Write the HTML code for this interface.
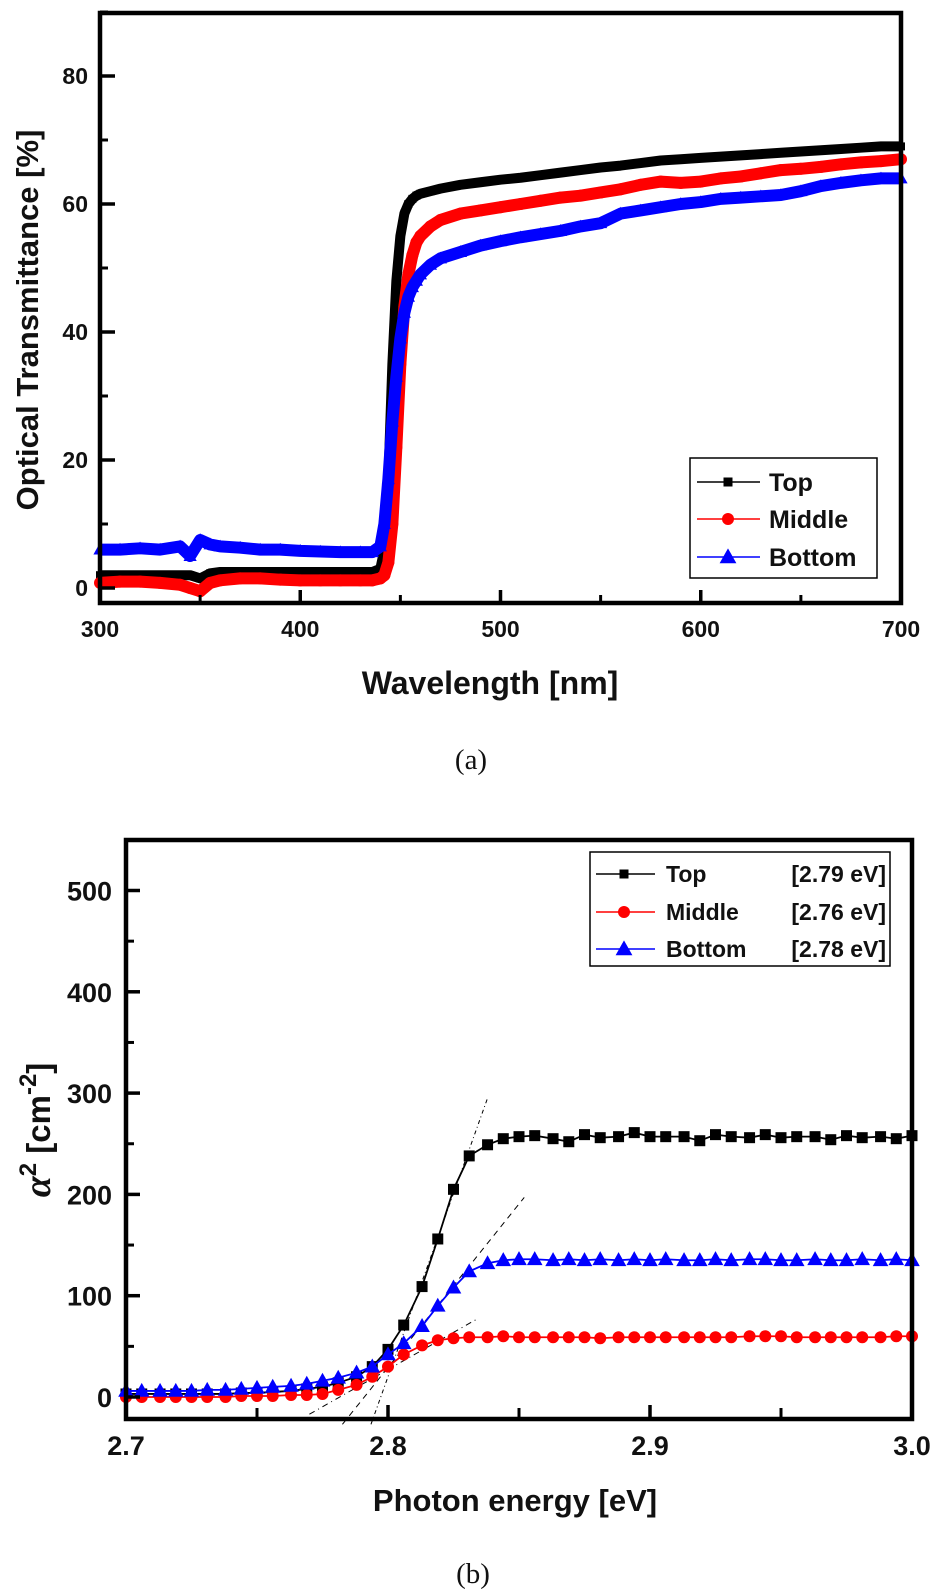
<!DOCTYPE html>
<html><head><meta charset="utf-8"><style>
html,body{margin:0;padding:0;background:#fff;}
svg{display:block;}
text{font-family:"Liberation Sans",sans-serif;}
.nar{font-family:"Liberation Sans Narrow","Liberation Sans",sans-serif;font-stretch:condensed;}
</style></head><body>
<svg id="fig" width="933" height="1589" viewBox="0 0 933 1589" xmlns="http://www.w3.org/2000/svg">
<rect width="933" height="1589" fill="#fff"/>
<g id="ga"></g>
<g id="gb"></g>
<text x="0" y="0" transform="translate(38,320) rotate(-90)" text-anchor="middle" font-size="31" font-weight="bold" fill="#111">Optical Transmittance [%]</text>
<text x="490" y="694" text-anchor="middle" font-size="32" font-weight="bold" fill="#111">Wavelength [nm]</text>
<text x="471" y="769" text-anchor="middle" font-size="29" fill="#111" style="font-family:'Liberation Serif',serif">(a)</text>
<text x="0" y="0" transform="translate(50,1130) rotate(-90)" text-anchor="middle" font-size="33" font-weight="bold" fill="#111"><tspan font-style="italic" style="font-family:'Liberation Serif',serif" font-size="38">α</tspan><tspan dy="-14" font-size="24">2</tspan><tspan dy="14"> [cm</tspan><tspan dy="-14" font-size="24">-2</tspan><tspan dy="14">]</tspan></text>
<text class="nar" x="515" y="1511" text-anchor="middle" font-size="31" font-weight="bold" fill="#111">Photon energy [eV]</text>
<text x="473" y="1583" text-anchor="middle" font-size="29" fill="#111" style="font-family:'Liberation Serif',serif">(b)</text>
</svg>
<script>
// ---------- Chart (a) data ----------
const wlA = [300,310,320,330,340,345,350,355,360,370,380,390,400,410,420,430,436,440,442,444,446,448,450,452,454,456,458,460,465,470,480,490,500,510,520,530,540,550,560,570,580,590,600,610,620,630,640,650,660,670,680,690,700];
const topA = [2,2,2,2,2,2,1.5,2.3,2.5,2.5,2.5,2.5,2.5,2.5,2.5,2.5,2.5,3,6,17,35,48,55,58.5,60,60.8,61.3,61.6,62,62.4,63,63.4,63.8,64.1,64.5,64.9,65.3,65.7,66,66.4,66.8,67,67.2,67.4,67.6,67.8,68,68.2,68.4,68.6,68.8,69,69];
const midA = [0.8,1,1,0.8,0.5,0,-0.5,0.8,1.2,1.5,1.5,1.3,1.2,1.2,1.2,1.2,1.2,1.5,2,4,10,22,35,44,49,52,54,55,56.5,57.5,58.5,59,59.5,60,60.5,61,61.3,61.8,62.3,63,63.5,63.3,63.5,64,64.3,64.8,65.3,65.5,65.8,66.2,66.5,66.7,67];
const botA = [6,6,6.2,6,6.5,5,7.5,6.8,6.5,6.3,6,6,5.8,5.7,5.6,5.6,5.6,6.5,10,17,26,33,39,43,45.5,47,48,49,50.5,51.5,52.5,53.5,54.2,54.8,55.3,55.8,56.5,57,58.5,59,59.5,60,60.3,60.8,61,61.2,61.4,62,62.8,63.3,63.7,64,64];
const xTicksA = [300,400,500,600,700];
const yTicksA = [0,20,40,60,80];

// ---------- Chart (b) data ----------
const eB = [2.700,2.706,2.713,2.719,2.725,2.731,2.738,2.744,2.750,2.756,2.763,2.769,2.775,2.781,2.788,2.794,2.800,2.806,2.813,2.819,2.825,2.831,2.838,2.844,2.850,2.856,2.863,2.869,2.875,2.881,2.888,2.894,2.900,2.906,2.913,2.919,2.925,2.931,2.938,2.944,2.950,2.956,2.963,2.969,2.975,2.981,2.988,2.994,3.000];
const topB = [3,3,3,3,3,3,3,4,4,5,6,8,10,14,20,30,47,71,109,156,205,238,249,255,257,258,255,252,259,256,257,261,257,257,257,253,259,257,256,259,256,257,257,254,258,256,257,255,258];
const botB = [6,6,6,6,6,7,7,8,9,10,11,13,16,19,24,30,42,53,70,90,108,124,132,135,136,136,135,136,135,136,135,136,135,136,135,135,136,135,136,136,135,135,136,135,135,136,135,136,135];
const midB = [0,0,0,0,0,0,0,1,1,1,2,2,3,7,12,20,30,42,51,56,58,59,59,60,59,59,59,59,59,58,59,59,59,59,59,59,59,59,60,60,60,59,59,59,59,59,59,60,60];
const tanTopE = [2.7935,2.838];
const tanTopV = [-27,295];
const tanBotE = [2.7826,2.852];
const tanBotV = [-27,197];
const tanMidE = [2.770,2.834];
const tanMidV = [-17,77];
const xTicksB = [2.7,2.8,2.9,3.0];
const yTicksB = [0,100,200,300,400,500];

const NS = "http://www.w3.org/2000/svg";
function mk(parent, tag, attrs){ const el=document.createElementNS(NS,tag); for(const k in attrs) el.setAttribute(k,attrs[k]); parent.appendChild(el); return el; }

// axis functions
const xA = w => 100 + (w-300)*(801/400);
const yA = v => 588 - v*6.4;
const xB = e => 126 + (e-2.7)*(786/0.3);
const yB = v => 1397 - v*1.013;

function marker(g, shape, x, y, s, color){
  let el;
  if(shape==='sq') el = mk(g,'rect',{x:x-s/2,y:y-s/2,width:s,height:s,fill:color});
  else if(shape==='ci') el = mk(g,'circle',{cx:x,cy:y,r:s/2+0.5,fill:color});
  else el = mk(g,'polygon',{points:`${x},${y-s*0.62} ${x-s*0.6},${y+s*0.45} ${x+s*0.6},${y+s*0.45}`,fill:color});
  return el;
}

// ---------- draw chart a ----------
const ga = document.getElementById('ga');
[[topA,'#000','sq','series-top-a',8,10],[midA,'#f00','ci','series-middle-a',11,12],[botA,'#00f','tr','series-bottom-a',11,12]].forEach(s=>{
  const g = mk(ga,'g',{});
  
  
  const pl = mk(g,'polyline',{points:wlA.map((w,i)=>xA(w)+','+yA(s[0][i])).join(' '),fill:'none',stroke:s[1],'stroke-width':s[5],'stroke-linejoin':'round'});
  
  
  wlA.forEach((w,i)=>{
    const m = marker(g,s[2],xA(w),yA(s[0][i]),s[4],s[1]);
    
    
  });
});
const fa = mk(ga,'rect',{x:100,y:13,width:801,height:590,fill:'none',stroke:'#000','stroke-width':4.5});


xTicksA.forEach(t=>{
  const l = mk(ga,'line',{x1:xA(t),x2:xA(t),y1:603,y2:590,stroke:'#000','stroke-width':3.5});
  
  
  const tx = mk(ga,'text',{x:xA(t),y:637,'text-anchor':'middle','font-size':23,'font-weight':'bold',fill:'#111'});
  tx.textContent = t;
  
  
  if(t<700){
    const m = mk(ga,'line',{x1:xA(t+50),x2:xA(t+50),y1:603,y2:595,stroke:'#000','stroke-width':3});
    
    
  }
});
yTicksA.forEach(t=>{
  const l = mk(ga,'line',{x1:100,x2:115,y1:yA(t),y2:yA(t),stroke:'#000','stroke-width':3.5});
  
  
  const tx = mk(ga,'text',{x:88,y:yA(t)+8,'text-anchor':'end','font-size':23,'font-weight':'bold',fill:'#111'});
  tx.textContent = t;
  
  
  const m = mk(ga,'line',{x1:100,x2:108,y1:yA(t+10),y2:yA(t+10),stroke:'#000','stroke-width':3});
  
  
});
const la = mk(ga,'g',{});


const lab = mk(la,'rect',{x:690,y:458,width:187,height:120,fill:'#fff',stroke:'#000','stroke-width':1.5});


[['Top','#000','sq',482,9],['Middle','#f00','ci',519,11],['Bottom','#00f','tr',557,14]].forEach(e=>{
  const g = mk(la,'g',{});
  
  
  mk(g,'line',{x1:697,x2:760,y1:e[3],y2:e[3],stroke:e[1],'stroke-width':1.5});
  marker(g,e[2],728,e[3],e[4],e[1]);
  const t = mk(g,'text',{x:769,y:e[3]+9,'font-size':25,'font-weight':'bold',fill:'#111'});
  t.textContent = e[0];
});

// ---------- draw chart b ----------
const gb = document.getElementById('gb');
[[tanTopE,tanTopV,'4 3 1 3'],[tanBotE,tanBotV,'6 5'],[tanMidE,tanMidV,'6 4 1 4']].forEach(t=>{
  const l = mk(gb,'line',{x1:xB(t[0][0]),y1:yB(t[1][0]),x2:xB(t[0][1]),y2:yB(t[1][1]),stroke:'#000','stroke-width':1,'stroke-dasharray':t[2]});
  
  
});
[[topB,'#000','sq','series-top-b',11],[midB,'#f00','ci','series-middle-b',11],[botB,'#00f','tr','series-bottom-b',13]].forEach(s=>{
  const g = mk(gb,'g',{});
  
  
  const pl = mk(g,'polyline',{points:eB.map((e,i)=>xB(e)+','+yB(s[0][i])).join(' '),fill:'none',stroke:s[1],'stroke-width':1.8});
  
  
  eB.forEach((e,i)=>{
    const m = marker(g,s[2],xB(e),yB(s[0][i]),s[4],s[1]);
    
    
  });
});
const fb = mk(gb,'rect',{x:126,y:840,width:786,height:579,fill:'none',stroke:'#000','stroke-width':4.5});


xTicksB.forEach((t,i)=>{
  const l = mk(gb,'line',{x1:xB(t),x2:xB(t),y1:1419,y2:1405,stroke:'#000','stroke-width':3.5});
  
  
  const tx = mk(gb,'text',{x:xB(t),y:1455,'text-anchor':'middle','font-size':27,'font-weight':'bold',fill:'#111',class:'nar'});
  tx.textContent = t.toFixed(1);
  
  
  if(i<xTicksB.length-1){
    const m = mk(gb,'line',{x1:xB(t+0.05),x2:xB(t+0.05),y1:1419,y2:1408,stroke:'#000','stroke-width':3});
    
    
  }
});
yTicksB.forEach(t=>{
  const l = mk(gb,'line',{x1:126,x2:140,y1:yB(t),y2:yB(t),stroke:'#000','stroke-width':3.5});
  
  
  const tx = mk(gb,'text',{x:112,y:yB(t)+10,'text-anchor':'end','font-size':27,'font-weight':'bold',fill:'#111',class:'nar'});
  tx.textContent = t;
  
  
  const m = mk(gb,'line',{x1:126,x2:134,y1:yB(t+50),y2:yB(t+50),stroke:'#000','stroke-width':3});
  
  
});
const lb = mk(gb,'g',{});


const lbb = mk(lb,'rect',{x:590,y:852,width:300,height:114,fill:'#fff',stroke:'#000','stroke-width':1.5});


[['Top','[2.79 eV]','#000','sq',874,9],['Middle','[2.76 eV]','#f00','ci',912,11],['Bottom','[2.78 eV]','#00f','tr',949,14]].forEach(e=>{
  const g = mk(lb,'g',{});
  
  
  mk(g,'line',{x1:596,x2:655,y1:e[4],y2:e[4],stroke:e[2],'stroke-width':1.5});
  marker(g,e[3],624,e[4],e[5],e[2]);
  const t = mk(g,'text',{x:666,y:e[4]+8,'font-size':23,'font-weight':'bold',fill:'#111'});
  t.textContent = e[0];
  const t2 = mk(g,'text',{x:886,y:e[4]+8,'text-anchor':'end','font-size':23,'font-weight':'bold',fill:'#111'});
  t2.textContent = e[1];
});
</script>
</body></html>
